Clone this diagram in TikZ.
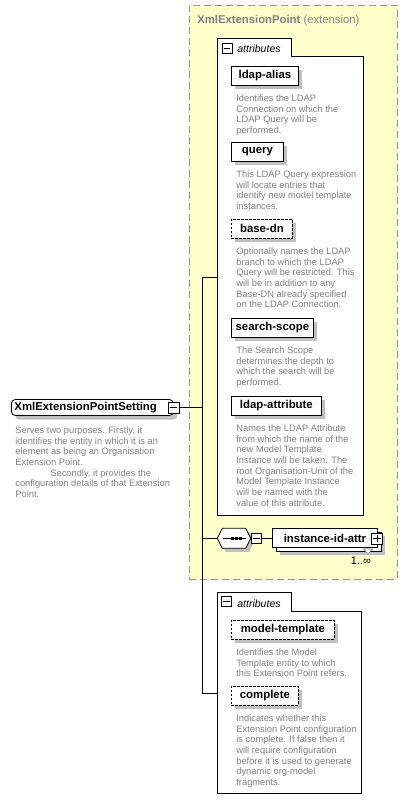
\documentclass[tikz,border=0pt]{standalone}
\usepackage{fontspec}
\setmainfont{Liberation Sans}
\usetikzlibrary{shadows}
\definecolor{descgray}{HTML}{808080}
\definecolor{yel}{HTML}{FFFFCC}
\definecolor{shadowgray}{HTML}{C0C0C0}
\definecolor{dashgray}{HTML}{939393}
\newcommand\descfont{\fontsize{9.3}{10.7}\selectfont}
\newcommand\lblfont{\fontsize{11.4}{13}\selectfont\bfseries}
\newcommand\firstline{\rule{0pt}{7pt}}
\begin{document}
\begin{tikzpicture}[x=1pt,y=-1pt,line width=0.8pt,
  shd/.style={drop shadow={shadow xshift=4pt,shadow yshift=-4pt,fill=shadowgray,opacity=1}},
  elem/.style={draw,fill=white,font=\lblfont,inner sep=0pt,minimum height=18.5pt,anchor=north west,shd},
  optelem/.style={elem,dash pattern=on 2.5pt off 1.5pt},
  desc/.style={anchor=north west,inner sep=0pt,align=left,font=\descfont,text=descgray},
  pm/.style={draw,fill=white,inner sep=0pt,minimum size=#1,line width=0.7pt},
  tabtext/.style={anchor=base west,inner sep=0pt,font=\fontsize{10.5}{12}\selectfont\itshape},
  group/.style={inner sep=0pt,anchor=north west}
]
\useasboundingbox (0,0) rectangle (408,812);

% extension box
\node[group,draw=dashgray,dash pattern=on 7pt off 4pt,fill=yel,minimum width=208pt,minimum height=574pt] (ext) at (189,5) {};
\node[anchor=base west,inner sep=0pt,text=descgray,font=\fontsize{11.3}{13}\selectfont] (title) at (197,23) {\textbf{XmlExtensionPoint} (extension)};

% attributes group 1
\filldraw[fill=white] (217,38) -- (291,38) -- (291,56) -- (363,56) -- (363,515) -- (217,515) -- cycle;
\node[group,minimum width=146pt,minimum height=477pt] (attrs1) at (217,38) {};
\node[pm=10pt] (am1) at (227,48) {};
\draw[line width=0.7pt] ([xshift=2pt]am1.west) -- ([xshift=-2pt]am1.east);
\node[tabtext] (at1) at (237,52) {attributes};

\node[elem,minimum width=67pt] (ldapalias) at (231,66) {ldap-alias};
\node[desc] (dldapalias) at (236,94) {\firstline Identifies the LDAP\\Connection on which the\\LDAP Query will be\\performed.};

\node[elem,minimum width=52pt] (query) at (231,142) {query};
\node[desc] (dquery) at (236,170) {\firstline This LDAP Query expression\\will locate entries that\\identify new model template\\instances.};

\node[optelem,minimum width=61pt] (basedn) at (231,219) {base-dn};
\node[desc] (dbasedn) at (236,247) {\firstline Optionally names the LDAP\\branch to which the LDAP\\Query will be restricted. This\\will be in addition to any\\Base-DN already specified\\on the LDAP Connection.};

\node[elem,minimum width=82pt] (searchscope) at (231,318) {search-scope};
\node[desc] (dsearchscope) at (236,346) {\firstline The Search Scope\\determines the depth to\\which the search will be\\performed.};

\node[elem,minimum width=90pt] (ldapattr) at (231,396) {ldap-attribute};
\node[desc] (dldapattr) at (236,424) {\firstline Names the LDAP Attribute\\from which the name of the\\new Model Template\\Instance will be taken. The\\root Organisation-Unit of the\\Model Template Instance\\will be named with the\\value of this attribute.};

% sequence
\node[inner sep=0pt,minimum width=33.4pt,minimum height=20pt] (seq) at (234,538.3) {};
\begin{scope}[shift={(3.5,3.5)}]
\fill[shadowgray] (217.3,538.3) -- (222.3,528.3) -- (245.7,528.3) -- (250.7,538.3) -- (245.7,548.3) -- (222.3,548.3) -- cycle;
\end{scope}
\filldraw[fill=white] (217.3,538.3) -- (222.3,528.3) -- (245.7,528.3) -- (250.7,538.3) -- (245.7,548.3) -- (222.3,548.3) -- cycle;
\draw (222.5,538.3) -- (246,538.3);
\foreach \d in {232.5,236.5,240.5} \fill (\d-1.4,537) rectangle (\d+1.4,539.6);
\node[pm=10pt] (seqm) at (256.7,538.3) {};
\draw[line width=0.7pt] ([xshift=2pt]seqm.west) -- ([xshift=-2pt]seqm.east);

% instance-id-attr
\fill[shadowgray] (279.5,535.5) rectangle (384.5,554.5);
\filldraw[fill=white] (276.3,532.3) rectangle (381.7,551.3);
\node[draw,fill=white,font=\lblfont,inner sep=0pt,minimum width=105.4pt,minimum height=19pt] (inst) at (325,538.3) {instance-id-attr};
\node[pm=11pt] (instp) at (377,538.5) {};
\draw[line width=0.7pt] ([xshift=2pt]instp.west) -- ([xshift=-2pt]instp.east) (instp.north) ++(0,2) -- ([yshift=2pt]instp.south);
\filldraw[fill=white,draw=descgray,line width=0.6pt] (363.5,549) -- (372.5,549) -- (368,553.8) -- cycle;
\node[inner sep=0pt,font=\fontsize{11}{13}\selectfont] (mult) at (361,561) {1..∞};
\draw (seqm.east) -- (inst.west);

% attributes group 2
\filldraw[fill=white] (217,592) -- (291,592) -- (291,611) -- (361,611) -- (361,793) -- (217,793) -- cycle;
\node[group,minimum width=144pt,minimum height=201pt] (attrs2) at (217,592) {};
\node[pm=9.5pt] (am2) at (226.5,601.5) {};
\draw[line width=0.7pt] ([xshift=2pt]am2.west) -- ([xshift=-2pt]am2.east);
\node[tabtext] (at2) at (237,607) {attributes};

\node[optelem,minimum width=103pt] (modeltemplate) at (231,620) {model-template};
\node[desc] (dmodeltemplate) at (236,648) {\firstline Identifies the Model\\Template entity to which\\this Extension Point refers.};

\node[optelem,minimum width=67pt] (complete) at (231,686) {complete};
\node[desc] (dcomplete) at (236,714) {\firstline Indicates whether this\\Extension Point configuration\\is complete. If false then it\\will require configuration\\before it is used to generate\\dynamic org-model\\fragments.};

% root element
\node[draw,fill=white,rounded corners=4pt,font=\lblfont,anchor=west,minimum height=16pt,text width=156pt,inner xsep=3pt,inner ysep=0pt,align=left,shd] (setting) at (11,407.5) {XmlExtensionPointSetting};
\node[pm=11pt] (sm) at (173.5,407.5) {};
\draw[line width=0.7pt] ([xshift=2pt]sm.west) -- ([xshift=-2pt]sm.east);
\node[desc] (dsetting) at (15,426) {\firstline Serves two purposes. Firstly, it\\identifies the entity in which it is an\\element as being an Organisation\\Extension Point.\\\hspace*{35pt}Secondly, it provides the\\configuration details of that Extension\\Point.};

% connectors
\coordinate (bus) at (202,407.5);
\draw (sm.east) -- (bus);
\draw (attrs1.west) -| (bus);
\draw (seq.west) -| (bus);
\draw (attrs2.west) -| (bus);
\end{tikzpicture}
\end{document}
